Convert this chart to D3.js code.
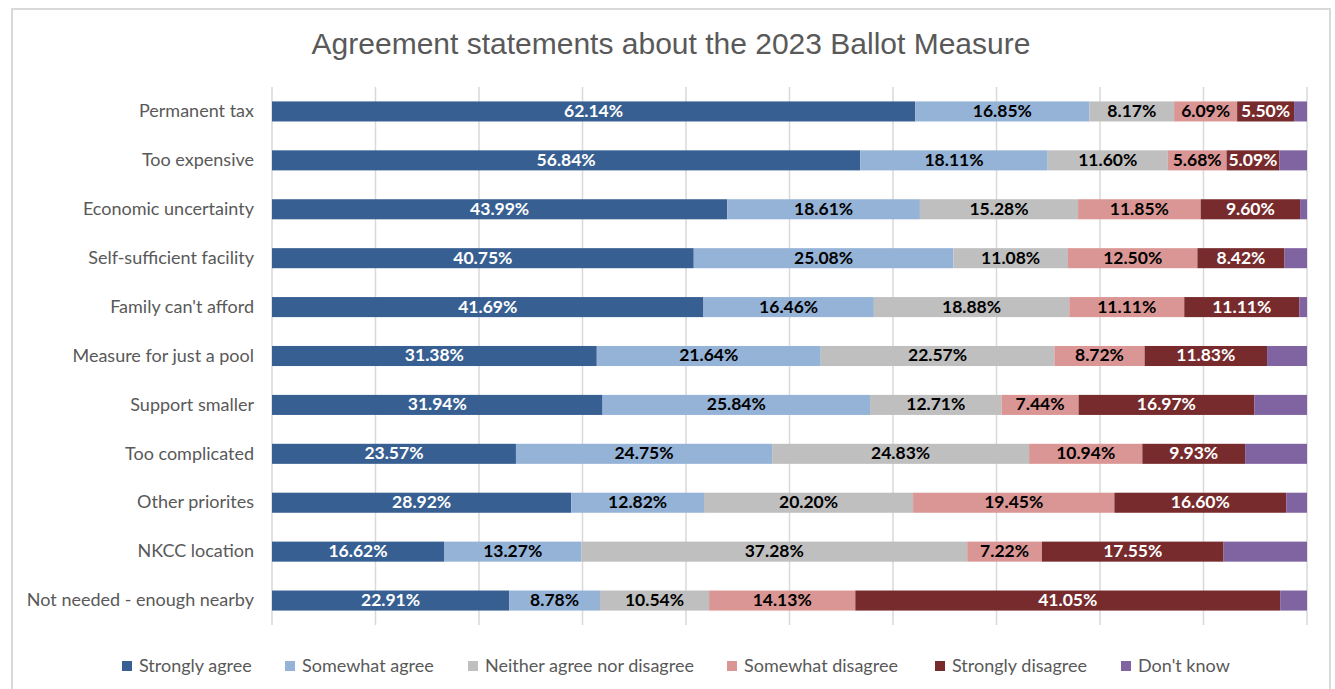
<!DOCTYPE html>
<html>
<head>
<meta charset="utf-8">
<script src="https://cdn.jsdelivr.net/npm/d3@7"></script>
<style>
  html, body { margin: 0; padding: 0; background: #fff; }
  svg { display: block; }
</style>
</head>
<body>
<svg id="chart" width="1335" height="689"></svg>
<script>
const categories = [
  "Permanent tax",
  "Too expensive",
  "Economic uncertainty",
  "Self-sufficient facility",
  "Family can't afford",
  "Measure for just a pool",
  "Support smaller",
  "Too complicated",
  "Other priorites",
  "NKCC location",
  "Not needed - enough nearby"
];
const seriesNames = ["Strongly agree", "Somewhat agree", "Neither agree nor disagree", "Somewhat disagree", "Strongly disagree", "Don't know"];
const stronglyAgree    = [62.14, 56.84, 43.99, 40.75, 41.69, 31.38, 31.94, 23.57, 28.92, 16.62, 22.91];
const somewhatAgree    = [16.85, 18.11, 18.61, 25.08, 16.46, 21.64, 25.84, 24.75, 12.82, 13.27, 8.78];
const neither          = [8.17, 11.60, 15.28, 11.08, 18.88, 22.57, 12.71, 24.83, 20.20, 37.28, 10.54];
const somewhatDisagree = [6.09, 5.68, 11.85, 12.50, 11.11, 8.72, 7.44, 10.94, 19.45, 7.22, 14.13];
const stronglyDisagree = [5.50, 5.09, 9.60, 8.42, 11.11, 11.83, 16.97, 9.93, 16.60, 17.55, 41.05];
const dontKnow         = [1.25, 2.68, 0.67, 2.17, 0.75, 3.86, 5.10, 5.98, 2.01, 8.06, 2.59];
const xTicks = [0, 10, 20, 30, 40, 50, 60, 70, 80, 90, 100];

const colors = ["#375F92", "#95B3D7", "#BFBFBF", "#DA9694", "#772B2C", "#8064A2"];
const labelColors = ["#ffffff", "#000000", "#000000", "#000000", "#ffffff", null];

(function () {
const seriesValues = [stronglyAgree, somewhatAgree, neither, somewhatDisagree, stronglyDisagree, dontKnow];
const rows = categories.map((c, i) => {
  const r = { cat: c };
  seriesNames.forEach((s, j) => r[s] = seriesValues[j][i]);
  return r;
});
const stacked = d3.stack().keys(seriesNames)(rows);

const svg = d3.select("#chart");

// outer border
svg.append("rect")
  .attr("x", 12).attr("y", 9).attr("width", 1318).attr("height", 700)
  .attr("fill", "#fff").attr("stroke", "#d9d9d9").attr("stroke-width", 2);

const pLeft = 272, pRight = 1307, pTop = 87, pBottom = 625;
const x = d3.scaleLinear().domain([0, 100]).range([pLeft, pRight]);
const y = d3.scaleBand().domain(categories).range([pTop, pBottom]).paddingInner(0.59).paddingOuter(0.295);

// title
svg.append("text")
  .attr("x", 671).attr("y", 54)
  .attr("text-anchor", "middle")
  .attr("font-family", "Liberation Sans, Arial, sans-serif")
  .attr("font-size", 30)
  .attr("fill", "#595959")
  .text("Agreement statements about the 2023 Ballot Measure");

// gridlines
svg.append("g").selectAll("line").data(xTicks).join("line")
  .attr("x1", d => x(d)).attr("x2", d => x(d))
  .attr("y1", pTop).attr("y2", pBottom)
  .attr("stroke", "#d9d9d9").attr("stroke-width", 1.5);

// bars
const g = svg.append("g");
stacked.forEach((layer, j) => {
  const lg = g.append("g");
  lg.selectAll("rect").data(layer).join("rect")
    .attr("x", d => x(d[0]))
    .attr("y", d => y(d.data.cat))
    .attr("width", d => x(d[1]) - x(d[0]))
    .attr("height", y.bandwidth())
    .attr("fill", colors[j]);
  if (labelColors[j]) {
    lg.selectAll("text").data(layer).join("text")
      .attr("x", d => (x(d[0]) + x(d[1])) / 2)
      .attr("y", d => y(d.data.cat) + y.bandwidth() / 2 + 1)
      .attr("text-anchor", "middle")
      .attr("dominant-baseline", "middle")
      .attr("font-family", "Lato, 'Open Sans', sans-serif")
      .attr("font-weight", "bold")
      .attr("font-size", 17.5)
      .attr("fill", labelColors[j])
      .text(d => (d[1] - d[0]).toFixed(2) + "%");
  }
});

// y axis labels
const yAxis = d3.axisLeft(y).tickSize(0).tickPadding(18);
const ya = svg.append("g").attr("transform", `translate(${pLeft},0)`).call(yAxis);
ya.select(".domain").remove();
ya.selectAll("text")
  .attr("font-family", "Lato, 'Open Sans', sans-serif")
  .attr("font-size", 18)
  .attr("fill", "#595959");

// legend
const legendX = [122, 285, 468, 727, 935, 1121];
const leg = svg.append("g");
seriesNames.forEach((s, j) => {
  leg.append("rect")
    .attr("x", legendX[j]).attr("y", 661)
    .attr("width", 10).attr("height", 10)
    .attr("fill", colors[j]);
  leg.append("text")
    .attr("x", legendX[j] + 17).attr("y", 672)
    .attr("font-family", "Lato, 'Open Sans', sans-serif")
    .attr("font-size", 18)
    .attr("fill", "#595959")
    .text(s);
});
})();
</script>
</body>
</html>
